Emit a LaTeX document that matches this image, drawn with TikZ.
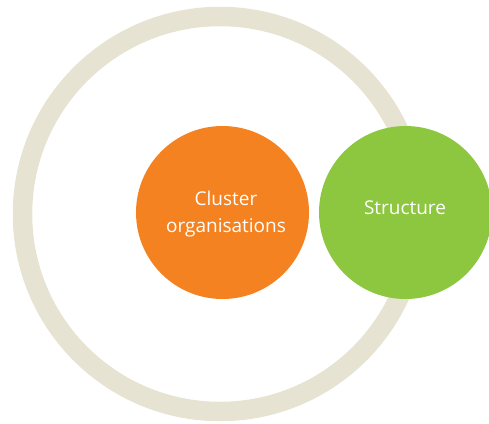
\documentclass[tikz,border=0pt]{standalone}
\usepackage{fontspec}
\setmainfont{Open Sans}
\definecolor{ringbeige}{HTML}{E6E3D3}
\definecolor{clusterorange}{HTML}{F58220}
\definecolor{structgreen}{HTML}{8DC63F}
\begin{document}
\begin{tikzpicture}[x=1pt,y=-1pt,
  bubble/.style={circle, minimum size=173pt, inner sep=0pt, draw=none},
  bubbletext/.style={text=white, font=\fontsize{19}{27}\selectfont, align=center, inner sep=0pt}]
  \useasboundingbox (0,0) rectangle (489,423);
  % outer ring
  \draw[ringbeige, line width=19.5pt] (220,214) circle[radius=197.5];
  % inner bubble
  \node[bubble, fill=clusterorange] (cluster) at (222.5,212.5) {};
  \node[bubbletext] (clusterlabel) at (226,214) {Cluster\\organisations};
  % bubble sitting on the ring
  \node[bubble, fill=structgreen] (structure) at (405.5,212.5) {};
  \node[bubbletext] (structurelabel) at (405,208) {Structure};
\end{tikzpicture}
\end{document}
